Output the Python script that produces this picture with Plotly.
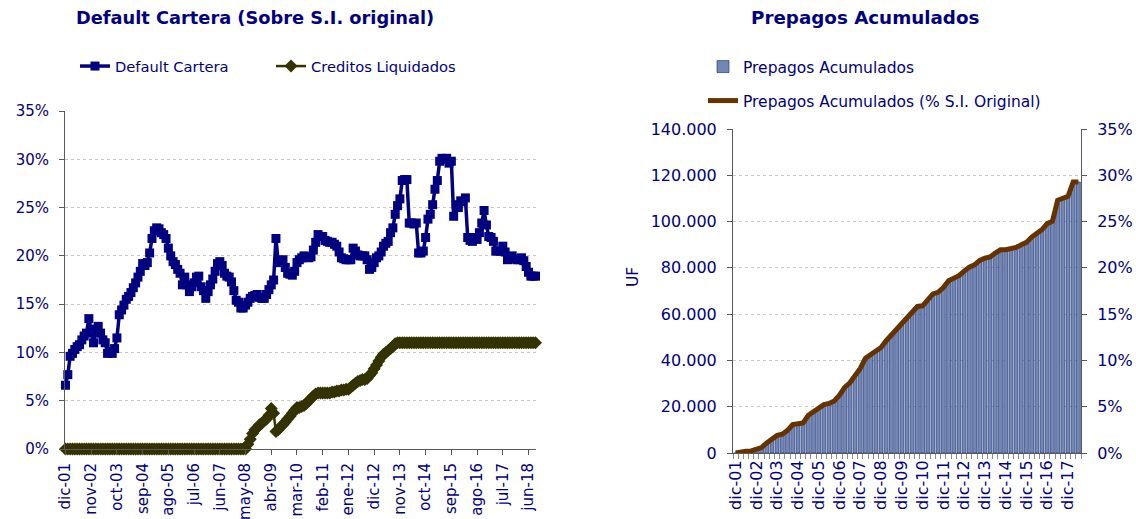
import plotly.graph_objects as go

# ---------------- data ----------------
month_labels = ["dic-01", "nov-02", "oct-03", "sep-04", "ago-05", "jul-06", "jun-07",
                "may-08", "abr-09", "mar-10", "feb-11", "ene-12", "dic-12", "nov-13",
                "oct-14", "sep-15", "ago-16", "jul-17", "jun-18"]
month_tick_step = 11

default_cartera = [
    6.6, 7.7, 9.6, 9.9, 10.3, 10.6, 10.8, 11.3, 11.7, 12.0,
    13.5, 12.4, 11.0, 12.4, 12.7, 12.0, 11.3, 11.0, 9.9, 10.1,
    9.9, 10.4, 11.5, 13.9, 14.4, 14.9, 15.5, 15.8, 16.2, 16.7,
    17.2, 17.8, 18.4, 19.2, 19.0, 19.3, 20.3, 21.8, 22.6, 22.9,
    22.8, 22.4, 22.2, 21.8, 20.8, 20.0, 19.4, 19.1, 18.6, 18.2,
    17.0, 17.8, 17.0, 16.3, 16.8, 17.2, 17.8, 17.9, 16.8, 16.4,
    15.6, 16.3, 17.0, 17.6, 18.4, 19.2, 19.4, 19.0, 18.2, 17.9,
    17.8, 17.3, 16.4, 15.4, 15.2, 14.6, 14.6, 14.9, 15.2, 15.6,
    15.8, 15.9, 16.0, 15.7, 15.6, 15.6, 16.0, 16.5, 17.0, 17.5,
    21.8, 19.3, 19.5, 19.6, 18.8, 18.2, 18.1, 18.0, 18.4, 19.3,
    19.6, 19.8, 20.0, 19.9, 19.8, 19.9, 20.6, 21.4, 22.2, 22.0,
    22.0, 21.6, 21.5, 21.4, 21.4, 21.2, 21.0, 20.4, 19.8, 19.7,
    19.6, 19.6, 19.6, 20.8, 20.5, 20.1, 20.0, 20.0, 20.0, 19.6,
    18.6, 18.8, 19.3, 19.8, 20.0, 20.4, 21.0, 21.3, 21.5, 22.4,
    22.9, 24.3, 25.2, 25.9, 27.8, 27.9, 27.9, 23.4, 23.4, 23.3,
    23.4, 20.3, 20.3, 20.5, 21.9, 23.8, 24.3, 25.3, 26.9, 27.8,
    29.8, 30.1, 30.0, 30.1, 29.6, 29.8, 24.1, 25.3, 25.0, 25.7,
    25.6, 26.0, 21.9, 21.6, 21.5, 21.9, 21.7, 22.4, 23.4, 24.7,
    23.2, 22.0, 21.9, 21.5, 20.5, 20.5, 20.5, 21.0, 20.4, 19.6,
    19.8, 20.0, 19.7, 19.6, 19.6, 19.8, 19.5, 18.9, 18.3, 17.9,
    17.9, 17.9,
]

creditos_liquidados = [0.0] * 78 + [
    0.5, 1.0, 1.6, 2.0, 2.2, 2.5, 2.7, 2.9, 3.1, 3.5,
    4.2, 3.7, 1.8, 2.0, 2.3, 2.5, 2.8, 3.1, 3.4, 3.7,
    4.0, 4.3, 4.3, 4.4, 4.5, 4.7, 5.0, 5.2, 5.5, 5.7,
    5.8, 5.8, 5.8, 5.8, 5.8, 5.8, 5.9, 5.9, 6.0, 6.0,
    6.1, 6.1, 6.2, 6.2, 6.4, 6.6, 6.8, 7.0, 7.1, 7.2,
    7.2, 7.3, 7.6, 7.9, 8.3, 8.7, 9.1, 9.5, 9.8, 10.0,
    10.2, 10.4, 10.6, 10.9, 11.0,
] + [11.0] * 59

quarter_labels = ["dic-01", "dic-02", "dic-03", "dic-04", "dic-05", "dic-06", "dic-07",
                  "dic-08", "dic-09", "dic-10", "dic-11", "dic-12", "dic-13", "dic-14",
                  "dic-15", "dic-16", "dic-17"]
quarter_tick_step = 4

prepagos_uf = [
    0, 100, 700, 900, 1600, 2300, 4300, 5800, 7600, 8100,
    9800, 12300, 12400, 13000, 16300, 17800, 18800, 20900, 21400, 22500,
    25000, 28300, 30300, 33200, 36500, 40900, 42300, 44000, 45600, 48500,
    51000, 53400, 55300, 58600, 60400, 63300, 63600, 66200, 68700, 69400,
    71500, 74400, 75600, 76600, 78500, 80300, 81300, 83200, 84200, 84700,
    86400, 87800, 87800, 88100, 88800, 90000, 91000, 93300, 94800, 96500,
    99100, 100100, 109200, 110200, 110900, 117100, 117100,
]

prepagos_pct = [
    0.00, 0.03, 0.18, 0.23, 0.40, 0.58, 1.08, 1.45, 1.90, 2.03,
    2.45, 3.08, 3.10, 3.25, 4.08, 4.45, 4.70, 5.23, 5.35, 5.63,
    6.25, 7.08, 7.58, 8.30, 9.13, 10.23, 10.58, 11.00, 11.40, 12.13,
    12.75, 13.35, 13.83, 14.65, 15.10, 15.83, 15.90, 16.55, 17.18, 17.35,
    17.88, 18.60, 18.90, 19.15, 19.63, 20.08, 20.33, 20.80, 21.05, 21.18,
    21.60, 21.95, 21.95, 22.03, 22.20, 22.50, 22.75, 23.33, 23.70, 24.13,
    24.78, 25.03, 27.30, 27.55, 27.73, 29.28, 29.28,
]

# ---------------- styling ----------------
W, H = 1136, 519
FONT = "DejaVu Sans"
NAVY = "#000080"
AXIS = "#595959"
GRID = "#c8c8c8"


def px_x(x):
    return x / W


def px_y(y):
    return 1 - y / H


mx = list(range(len(default_cartera)))
qx = list(range(len(prepagos_uf)))

fig = go.Figure()

fig.add_trace(go.Scatter(
    x=mx, y=default_cartera, name="Default Cartera", mode="lines+markers",
    line=dict(color=NAVY, width=3.5), marker=dict(symbol="square", size=9, color=NAVY),
    xaxis="x", yaxis="y", cliponaxis=False, legend="legend",
))
fig.add_trace(go.Scatter(
    x=mx, y=creditos_liquidados, name="Creditos Liquidados", mode="lines+markers",
    line=dict(color="#333300", width=2.5), marker=dict(symbol="diamond", size=10, color="#333300"),
    xaxis="x", yaxis="y", cliponaxis=False, legend="legend4",
))
fig.add_trace(go.Bar(
    x=qx, y=prepagos_uf, name="Prepagos Acumulados",
    marker=dict(color="#7387b5", line=dict(color="#13296b", width=0.6)),
    xaxis="x2", yaxis="y2", legend="legend2",
))
fig.add_trace(go.Scatter(
    x=qx, y=prepagos_pct, name="Prepagos Acumulados (% S.I. Original)", mode="lines",
    line=dict(color="#663300", width=5),
    xaxis="x2", yaxis="y3", legend="legend3",
))

tick_l = dict(family=FONT, size=15, color=NAVY)
tick_r = dict(family=FONT, size=16, color=NAVY)
leg_l = dict(family=FONT, size=14.7, color=NAVY)
leg_r = dict(family=FONT, size=15.5, color=NAVY)

fig.update_layout(
    width=W, height=H,
    margin=dict(l=0, r=0, t=0, b=0, autoexpand=False),
    paper_bgcolor="white", plot_bgcolor="white",
    separators=",.",
    showlegend=True,
    bargap=0.25,
    font=dict(family=FONT, size=14, color=NAVY),
    xaxis=dict(
        domain=[px_x(65), px_x(536)], anchor="y", automargin=False,
        range=[-0.2, len(default_cartera) - 0.8],
        tickmode="array",
        tickvals=[i * month_tick_step for i in range(len(month_labels))],
        ticktext=month_labels, tickangle=-90,
        ticks="outside", ticklen=5, tickcolor=AXIS, ticklabelstandoff=2,
        showline=True, linecolor=AXIS, linewidth=1,
        showgrid=False, zeroline=False, tickfont=tick_l,
    ),
    yaxis=dict(
        domain=[px_y(449), px_y(111)], anchor="x", automargin=False,
        range=[0, 35], dtick=5, ticksuffix="%",
        ticks="outside", ticklen=5, tickcolor=AXIS, ticklabelstandoff=7,
        showline=True, linecolor=AXIS, linewidth=1,
        showgrid=True, gridcolor=GRID, griddash="dot", gridwidth=1,
        zeroline=False, tickfont=tick_l,
    ),
    xaxis2=dict(
        domain=[px_x(733), px_x(1081)], anchor="y2", automargin=False,
        range=[-0.5, len(prepagos_uf) - 0.5],
        tickmode="array",
        tickvals=[i * quarter_tick_step for i in range(len(quarter_labels))],
        ticktext=quarter_labels, tickangle=-90,
        ticks="", showline=True, linecolor=AXIS, linewidth=1,
        minor=dict(tickmode="linear", tick0=-0.5, dtick=1, ticks="outside",
                   ticklen=5, tickcolor="#8c8c8c", showgrid=False),
        showgrid=False, zeroline=False, tickfont=tick_r,
    ),
    yaxis2=dict(
        domain=[px_y(453), px_y(129)], anchor="x2", automargin=False,
        range=[0, 140000], dtick=20000, tickformat=",.0f",
        ticks="outside", ticklen=5, tickcolor=AXIS, ticklabelstandoff=7,
        showline=True, linecolor=AXIS, linewidth=1,
        showgrid=True, gridcolor=GRID, griddash="dot", gridwidth=1,
        zeroline=False, tickfont=tick_r,
    ),
    yaxis3=dict(
        overlaying="y2", side="right", anchor="x2", automargin=False,
        range=[0, 35], dtick=5, ticksuffix="%",
        ticks="outside", ticklen=5, tickcolor=AXIS, ticklabelstandoff=7,
        showline=True, linecolor=AXIS, linewidth=1,
        showgrid=False, zeroline=False, tickfont=tick_r,
    ),
    legend=dict(x=px_x(75), y=px_y(50), xanchor="left", yanchor="top",
                orientation="h", bgcolor="rgba(0,0,0,0)", font=leg_l),
    legend4=dict(x=px_x(271), y=px_y(50), xanchor="left", yanchor="top",
                 orientation="h", bgcolor="rgba(0,0,0,0)", font=leg_l),
    legend2=dict(x=px_x(703), y=px_y(50), xanchor="left", yanchor="top",
                 bgcolor="rgba(0,0,0,0)", font=leg_r),
    legend3=dict(x=px_x(703), y=px_y(84), xanchor="left", yanchor="top",
                 bgcolor="rgba(0,0,0,0)", font=leg_r),
    annotations=[
        dict(text="<b>Default Cartera (Sobre S.I. original)</b>", x=px_x(255), y=px_y(18),
             xref="paper", yref="paper", showarrow=False, xanchor="center", yanchor="middle",
             font=dict(family=FONT, size=17.8, color=NAVY)),
        dict(text="<b>Prepagos Acumulados</b>", x=px_x(865), y=px_y(18),
             xref="paper", yref="paper", showarrow=False, xanchor="center", yanchor="middle",
             font=dict(family=FONT, size=18.3, color=NAVY)),
        dict(text="UF", x=px_x(633), y=px_y(277), xref="paper", yref="paper",
             showarrow=False, textangle=-90, xanchor="center", yanchor="middle",
             font=dict(family=FONT, size=15.5, color=NAVY)),
    ],
)

fig.write_html(
    "out.html",
    config={"displayModeBar": False},
    post_script="document.body.style.margin='0';document.body.style.overflow='hidden';",
)
